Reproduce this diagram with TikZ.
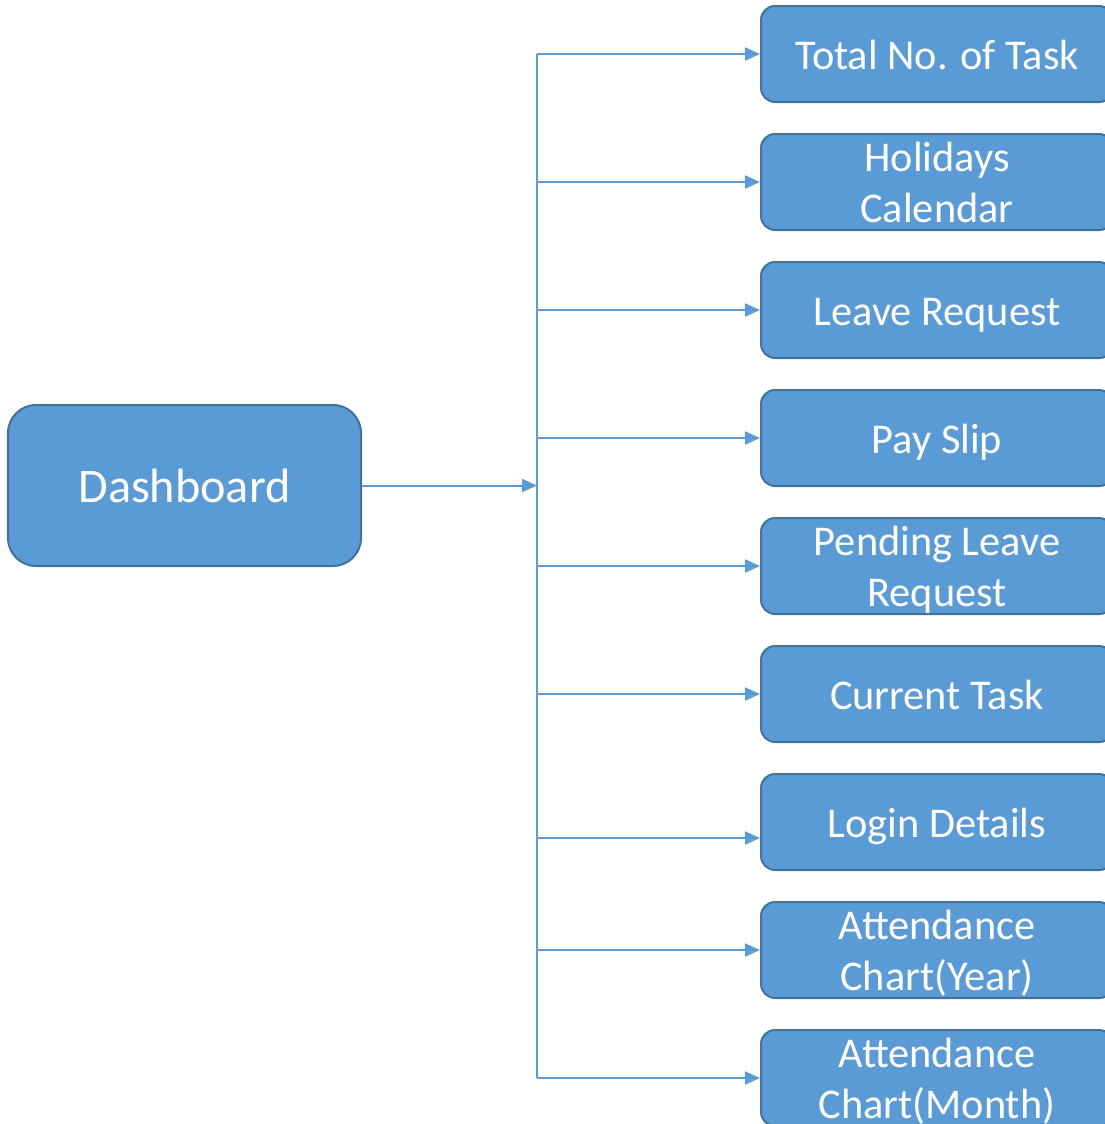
\documentclass[tikz,border=0pt]{standalone}
\usepackage{fontspec}
\setmainfont{Carlito}
\usetikzlibrary{arrows.meta}
\definecolor{boxfill}{HTML}{5B9BD5}
\definecolor{boxline}{HTML}{41719C}
\definecolor{wire}{HTML}{5B9BD5}
% last line of a two-line label: ignore descenders when centring
\newcommand\flatline[1]{\raisebox{0pt}[\height][0pt]{#1}}
\begin{document}
\begin{tikzpicture}[x=1bp,y=-1bp,
  box/.style={draw=boxline, line width=2bp, fill=boxfill, text=white,
    rounded corners=14bp, minimum width=352bp, minimum height=96bp,
    inner sep=0pt, font=\fontsize{42.5}{51}\selectfont},
  card/.style={box, align=center},
  oneline/.style={box, text height=34bp, text depth=3bp},
  hub/.style={box, rounded corners=28bp, minimum width=353bp,
    minimum height=161bp, font=\fontsize{48.4}{58}\selectfont},
  link/.style={draw=wire, line width=2bp},
  feed/.style={link, -{Triangle[length=15bp,width=13bp]}}]
\useasboundingbox (0,0) rectangle (1105,1124);
\clip (0,0) rectangle (1105,1124);

% main module
\node[hub] (dash) at (184.5,485.5) {Dashboard};

% dashboard items
\node[oneline] (b1) at (937,54)   {Total No. of Task};
\node[card]    (b2) at (937,182)  {Holidays\\\flatline{Calendar}};
\node[oneline] (b3) at (937,310)  {Leave Request};
\node[oneline] (b4) at (937,438)  {Pay Slip};
\node[card]    (b5) at (937,566)  {Pending Leave\\\flatline{Request}};
\node[oneline] (b6) at (937,694)  {Current Task};
\node[oneline] (b7) at (937,822)  {Login Details};
\node[card]    (b8) at (937,950)  {Attendance\\\flatline{Chart(Year)}};
\node[card]    (b9) at (937,1078) {Attendance\\\flatline{Chart(Month)}};

% branch points on the trunk
\coordinate (t1) at (537,54);
\coordinate (t2) at (537,182);
\coordinate (t3) at (537,310);
\coordinate (t4) at (537,438);
\coordinate (t5) at (537,566);
\coordinate (t6) at (537,694);
\coordinate (t7) at (537,838);
\coordinate (t8) at (537,950);
\coordinate (t9) at (537,1078);

% trunk and feed from the dashboard
\draw[link] (t1) -- (t9);
\draw[feed] (dash.east) -- (dash.east -| t1);

% branches to each item
\foreach \i in {1,...,9}
  \draw[feed] (t\i) -- (t\i -| b\i.west);
\end{tikzpicture}
\end{document}
